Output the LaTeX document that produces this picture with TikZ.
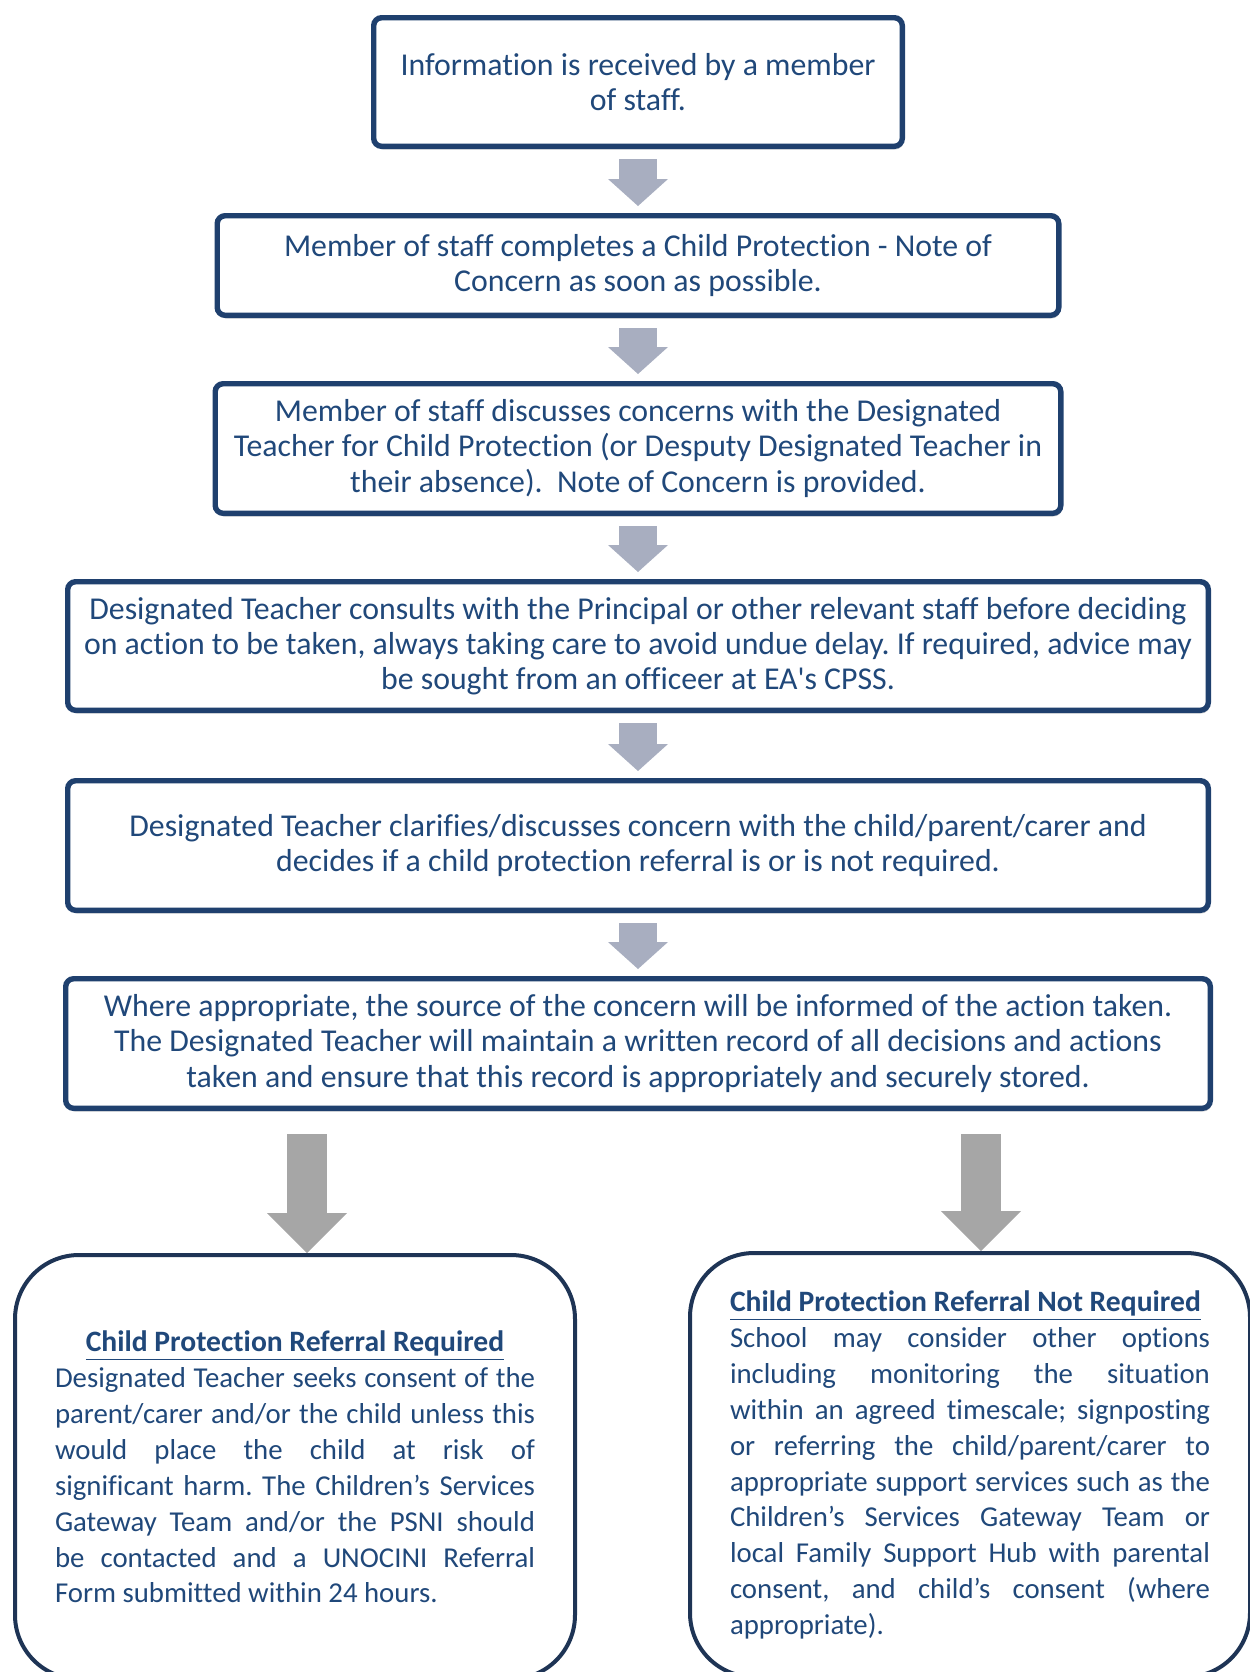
\documentclass[tikz,border=0pt]{standalone}
\usepackage{fontspec}
\setmainfont{Carlito}[Ligatures=NoCommon]
\usetikzlibrary{arrows.meta,shadows}

\definecolor{boxline}{RGB}{31,64,110}
\definecolor{endline}{RGB}{30,52,85}
\definecolor{boxtext}{RGB}{32,72,122}
\definecolor{smallgrey}{RGB}{168,174,192}
\definecolor{biggrey}{RGB}{166,166,166}

\hyphenpenalty=10000
\frenchspacing
\newcommand{\outcome}[1]{{\fontsize{14.8}{17.95}\selectfont\underline{\textbf{#1}}}}

\begin{document}
\begin{tikzpicture}[x=0.5pt, y=-0.5pt,
    stepbox/.style={draw=boxline, line width=2.7pt, rounded corners=4pt, fill=white,
        text=boxtext, align=center, inner sep=0pt,
        font=\fontsize{15.9}{17.6}\selectfont,
        drop shadow={shadow xshift=0.6pt, shadow yshift=-1.6pt, opacity=0.25, fill=black!60}},
    endbox/.style={draw=endline, line width=2pt, rounded corners=32pt, fill=white,
        text=boxtext, text width=240pt, align=justify, inner sep=0pt,
        minimum width=280pt, minimum height=212pt,
        font=\fontsize{14.4}{17.95}\selectfont},
    downarrow/.style={draw=smallgrey, line width=19pt,
        -{Triangle[width=30pt, length=13.5pt, line width=0pt]}},
    bigdown/.style={draw=biggrey, line width=20pt,
        -{Triangle[width=40pt, length=20pt, line width=0pt]}}]
    \useasboundingbox (0,0) rectangle (1249,1672);

    \node[stepbox, minimum width=264.3pt, minimum height=64.3pt] (info) at (638,82)
        {Information is received by a member\\ of staff.};
    \node[stepbox, minimum width=420.8pt, minimum height=49.8pt] (note) at (638,265.5)
        {Member of staff completes a Child Protection - Note of\\ Concern as soon as possible.};
    \node[stepbox, minimum width=422.8pt, minimum height=64.8pt] (discuss) at (638,448.5)
        {Member of staff discusses concerns with the Designated\\
         Teacher for Child Protection (or Desputy Designated Teacher in\\
         their absence).\ \ Note of Concern is provided.};
    \node[stepbox, minimum width=570.3pt, minimum height=64.3pt] (consult) at (638,646)
        {Designated Teacher consults with the Principal or other relevant staff before deciding\\
         on action to be taken, always taking care to avoid undue delay. If required, advice may\\
         be sought from an officeer at EA\textquotesingle s CPSS.};
    \node[stepbox, minimum width=570.3pt, minimum height=64.8pt] (clarify) at (638,845.5)
        {Designated Teacher clarifies/discusses concern with the child/parent/carer and\\
         decides if a child protection referral is or is not required.};
    \node[stepbox, minimum width=572.3pt, minimum height=64.8pt] (record) at (638,1043.5)
        {Where appropriate, the source of the concern will be informed of the action taken.\\
         The Designated Teacher will maintain a written record of all decisions and actions\\
         taken and ensure that this record is appropriately and securely stored.};

    \node[endbox] (req) at (295,1467)
        {{\centering\outcome{Child Protection Referral Required}\par}
         Designated Teacher seeks consent of the\linebreak parent/carer and/or the child unless this\linebreak
         would place the child at risk of\linebreak significant harm. The Children’s Services\linebreak
         Gateway Team and/or the PSNI should\linebreak be contacted and a UNOCINI Referral\linebreak
         Form submitted within 24 hours.};
    \node[endbox] (notreq) at (970,1465)
        {\outcome{Child Protection Referral Not Required}\par
         School may consider other options\linebreak including monitoring the situation\linebreak
         within an agreed timescale; signposting\linebreak or referring the child/parent/carer to\linebreak
         appropriate support services such as the\linebreak Children’s Services Gateway Team or\linebreak
         local Family Support Hub with parental\linebreak consent, and child’s consent (where\linebreak
         appropriate).};

    % grey arrows between the steps
    \draw[downarrow] ([yshift=-5pt]info.south) -- ([yshift=3.5pt]note.north);
    \draw[downarrow] ([yshift=-5pt]note.south) -- ([yshift=3.5pt]discuss.north);
    \draw[downarrow] ([yshift=-5pt]discuss.south) -- ([yshift=3.5pt]consult.north);
    \draw[downarrow] ([yshift=-5pt]consult.south) -- ([yshift=3.5pt]clarify.north);
    \draw[downarrow] ([yshift=-5pt]clarify.south) -- ([yshift=3.5pt]record.north);

    % the two outcomes
    \coordinate (reqtop) at (307,1134);
    \coordinate (notreqtop) at (981,1134);
    \draw[bigdown] (reqtop) -- (reqtop |- req.north);
    \draw[bigdown] (notreqtop) -- (notreqtop |- notreq.north);
\end{tikzpicture}
\end{document}
